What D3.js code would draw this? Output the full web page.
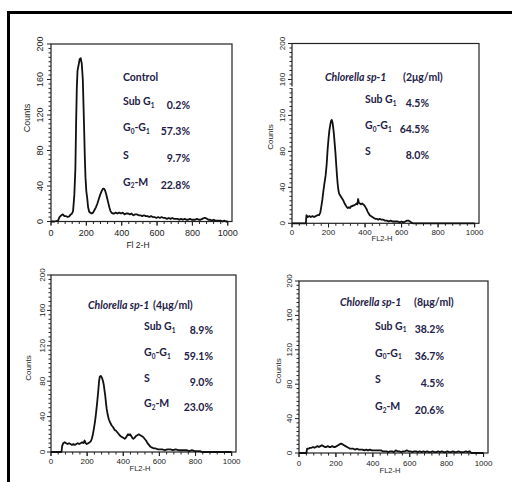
<!DOCTYPE html>
<html>
<head>
<meta charset="utf-8">
<script src="https://cdn.jsdelivr.net/npm/d3@7"></script>
<style>
  body { margin: 0; background: #fff; }
  .tick-label { font-family: "Liberation Sans", Arial, sans-serif; fill: #222; }
  .stat { font-family: Lato, "Open Sans", sans-serif; font-weight: bold; fill: #1e2147; }
</style>
</head>
<body>
<div id="chart"></div>
<script>
// histograms: [FL2-H channel, counts]
var controlHist = [[0,0],[20,0],[40,1],[48,5],[58,7],[67,8],[76,6],[86,6],[95,5],[104,6],[112,8],[119,9],[125,12],
  [132,30],[138,60],[142,110],[146,150],[150,170],[156,176],[162,183],[168,184],[174,178],[180,160],[184,130],
  [188,100],[191,75],[195,50],[200,34],[205,26],[210,16],[216,11],[222,10],[230,9],[238,10],[246,13],[254,16],
  [262,20],[270,25],[278,30],[286,34],[294,37],[300,37],[306,35],[312,31],[318,26],[324,21],[330,16],[336,12],
  [342,10],[350,9],[358,9],[366,10],[376,9],[386,10],[396,9],[406,10],[416,8],[426,9],[436,9],[446,8],[456,9],
  [466,7],[476,8],[486,8],[496,7],[506,7],[516,6],[526,7],[536,6],[546,6],[556,5],[566,6],[576,5],[586,5],[596,4],
  [606,5],[616,4],[626,5],[636,4],[646,4],[656,3],[666,4],[676,3],[686,4],[696,3],[706,3],[716,3],[726,2],[736,3],
  [746,2],[756,3],[766,2],[776,2],[786,3],[796,2],[806,2],[816,2],[826,3],[836,2],[846,2],[856,3],[866,4],[874,4],
  [882,3],[890,2],[900,2],[910,1],[920,2],[930,1],[940,1],[950,1],[960,1],[970,0],[980,1],[990,0],[1000,0]];

var chl2Hist = [[0,0],[30,0],[60,0],[76,0],[79,9],[86,7],[95,8],[103,7],[112,8],[121,7],[130,8],[139,9],[148,9],
  [155,12],[160,18],[166,26],[172,36],[178,45],[184,53],[190,66],[195,82],[200,94],[205,104],[210,110],[214,114],
  [218,115],[222,112],[226,106],[230,98],[234,88],[238,78],[242,66],[246,54],[250,44],[254,37],[258,33],[264,31],
  [270,29],[276,27],[282,25],[288,22],[294,20],[300,18],[306,17],[312,18],[318,17],[324,19],[330,19],[336,20],
  [342,20],[348,21],[354,22],[358,21],[362,27],[366,23],[372,22],[378,21],[384,22],[390,21],[396,20],[402,18],
  [408,16],[414,13],[420,11],[426,9],[432,8],[440,7],[448,6],[456,5],[464,5],[472,4],[480,5],[490,4],[500,4],
  [510,3],[520,3],[530,2],[540,3],[550,2],[560,2],[570,2],[580,2],[590,1],[600,2],[610,1],[620,2],[630,3],[638,3],
  [646,2],[654,1],[662,0],[720,0],[800,0],[900,0],[1000,0]];

var chl4Hist = [[0,0],[30,0],[58,0],[62,7],[68,10],[76,11],[84,10],[92,9],[100,10],[108,9],[116,8],[124,9],[132,8],
  [140,9],[148,10],[156,9],[164,10],[172,11],[180,10],[186,13],[192,10],[198,9],[206,10],[214,11],[220,12],
  [226,15],[232,20],[238,27],[244,35],[250,45],[256,57],[262,70],[266,80],[270,85],[276,86],[282,84],[288,80],
  [292,76],[296,70],[300,64],[304,56],[308,49],[314,42],[320,37],[328,33],[336,30],[344,28],[352,25],[360,24],
  [368,22],[376,20],[384,18],[392,17],[400,16],[408,15],[414,16],[420,18],[426,20],[432,19],[438,20],[444,18],
  [450,16],[456,15],[462,16],[470,18],[478,19],[486,20],[494,19],[502,18],[510,17],[518,15],[526,13],[534,10],
  [542,8],[550,6],[560,5],[570,4],[580,4],[592,3],[604,3],[616,3],[630,2],[645,3],[660,3],[675,2],[690,3],[705,2],
  [720,2],[735,2],[750,2],[765,1],[780,2],[795,1],[810,1],[825,1],[835,0],[900,0],[1000,0]];

var chl8Hist = [[0,0],[20,0],[40,0],[44,5],[52,5],[60,6],[68,6],[76,7],[84,6],[92,7],[100,8],[108,7],[116,8],[124,9],
  [132,8],[140,7],[148,7],[156,8],[164,7],[172,7],[180,8],[188,7],[196,7],[204,8],[212,9],[220,10],[228,11],
  [236,10],[244,9],[252,8],[260,7],[268,6],[276,5],[284,5],[294,5],[304,4],[314,5],[324,4],[334,4],[344,4],
  [354,3],[364,4],[374,3],[384,4],[394,3],[404,3],[414,3],[424,3],[434,3],[444,3],[454,2],[464,2],[474,2],[484,1],
  [494,2],[504,2],[514,1],[524,3],[534,2],[544,2],[554,1],[564,2],[574,2],[584,3],[594,2],[604,2],[614,1],[624,2],
  [634,2],[644,1],[654,2],[664,1],[674,2],[684,1],[694,2],[704,1],[714,1],[724,2],[734,1],[744,1],[754,2],[764,1],
  [774,2],[784,1],[794,1],[804,2],[814,1],[824,1],[834,2],[844,1],[854,1],[864,2],[874,1],[884,1],[894,1],[904,2],
  [914,1],[924,2],[934,0],[1000,0]];

var sampleNames = ["Control", "Chlorella sp-1", "Chlorella sp-1", "Chlorella sp-1"];
var doses = ["", "(2\u03bcg/ml)", "(4\u03bcg/ml)", "(8\u03bcg/ml)"];
var phaseLabels = ["Sub G_1", "G_0-G_1", "S", "G_2-M"];
var controlPct = ["0.2%", "57.3%", "9.7%", "22.8%"];
var chl2Pct = ["4.5%", "64.5%", "8.0%"];
var chl4Pct = ["8.9%", "59.1%", "9.0%", "23.0%"];
var chl8Pct = ["38.2%", "36.7%", "4.5%", "20.6%"];
var xTickValues = [0, 200, 400, 600, 800, 1000];
var yTickValues = [0, 40, 80, 120, 160, 200];
var xTitles = ["Fl 2-H", "FL2-H", "FL2-H", "FL2-H"];

var hists = [controlHist, chl2Hist, chl4Hist, chl8Hist];
var pcts = [controlPct, chl2Pct, chl4Pct, chl8Pct];

// panel placement (pixels)
var layout = [
  {l: 51, r: 232, t: 44, b: 221.5, nameX: 123, doseX: 0, labX: 123, valX: 190,
   rows: [77, 105, 131, 158.5, 185.5], yLabX: 40, countsX: 27, countsY: 118,
   xLabY: 232.5, xTitleX: 138, xTitleY: 245, tickFs: 9, titleFs: 8.5},
  {l: 292, r: 479, t: 43.5, b: 223.3, nameX: 325, doseX: 403, labX: 365, valX: 429,
   rows: [77, 103, 129, 155], yLabX: 282, countsX: 270, countsY: 137,
   xLabY: 232.5, xTitleX: 382, xTitleY: 238, tickFs: 8, titleFs: 7.5},
  {l: 51, r: 236, t: 275, b: 452, nameX: 88, doseX: 153, labX: 144, valX: 213,
   rows: [305, 330, 356, 382, 407], yLabX: 42, countsX: 28, countsY: 368,
   xLabY: 460.7, xTitleX: 140, xTitleY: 468.5, tickFs: 8, titleFs: 7.5},
  {l: 299, r: 488, t: 281, b: 453, nameX: 340, doseX: 414, labX: 375, valX: 444,
   rows: [302.5, 329.5, 356.5, 383.3, 410], yLabX: 289, countsX: 278, countsY: 371,
   xLabY: 463.3, xTitleX: 390, xTitleY: 470, tickFs: 8, titleFs: 7.5}
];

var svg = d3.select("#chart").append("svg")
    .attr("width", 512)
    .attr("height", 482);

// outer frame (top and left edges only are in view)
svg.append("rect").attr("x", 7).attr("y", 11).attr("width", 505).attr("height", 3).attr("fill", "#000");
svg.append("rect").attr("x", 7).attr("y", 11).attr("width", 3).attr("height", 471).attr("fill", "#000");

function addSubText(sel, str) {
    // "G_0-G_1" -> G with subscript 0, "-G", subscript 1
    var parts = str.split(/(_\d)/).filter(function(p) { return p !== ""; });
    var shifted = false;
    parts.forEach(function(p) {
        if (p[0] === "_") {
            sel.append("tspan").attr("font-size", 6.5).attr("dy", 2.5).text(p.slice(1));
            shifted = true;
        } else {
            sel.append("tspan").attr("dy", shifted ? -2.5 : 0).text(p);
            shifted = false;
        }
    });
}

layout.forEach(function(p, i) {
    var g = svg.append("g");

    var x = d3.scaleLinear().domain([0, 1024]).range([p.l, p.r]);
    var y = d3.scaleLinear().domain([0, 200]).range([p.b, p.t]);

    // minor/major ticks
    var yMinor = d3.range(0, 201, 5);
    g.selectAll(".ytk").data(yMinor).enter().append("line")
        .attr("x1", p.l)
        .attr("x2", function(d) { return p.l - (d % 40 === 0 ? 4 : 2.5); })
        .attr("y1", function(d) { return y(d); })
        .attr("y2", function(d) { return y(d); })
        .attr("stroke", "#222").attr("stroke-width", 1);

    var xMinor = d3.range(0, 1001, 40).concat(xTickValues);
    g.selectAll(".xtk").data(xMinor).enter().append("line")
        .attr("x1", function(d) { return x(d); })
        .attr("x2", function(d) { return x(d); })
        .attr("y1", p.b)
        .attr("y2", function(d) { return p.b + (d % 200 === 0 ? 4 : 2.5); })
        .attr("stroke", "#222").attr("stroke-width", 1);

    // plot box
    g.append("rect")
        .attr("x", p.l).attr("y", p.t)
        .attr("width", p.r - p.l).attr("height", p.b - p.t)
        .attr("fill", "none").attr("stroke", "#222").attr("stroke-width", 1.2);

    // tick labels
    g.selectAll(".xl").data(xTickValues).enter().append("text")
        .attr("class", "tick-label")
        .attr("x", function(d) { return x(d); })
        .attr("y", p.xLabY)
        .attr("dy", "0.35em")
        .attr("text-anchor", "middle")
        .attr("font-size", p.tickFs)
        .text(function(d) { return d; });

    g.selectAll(".yl").data(yTickValues).enter().append("text")
        .attr("class", "tick-label")
        .attr("transform", function(d) { return "translate(" + p.yLabX + "," + y(d) + ") rotate(-90)"; })
        .attr("dy", "0.35em")
        .attr("text-anchor", "middle")
        .attr("font-size", p.tickFs)
        .text(function(d) { return d; });

    g.append("text")
        .attr("class", "tick-label")
        .attr("transform", "translate(" + p.countsX + "," + p.countsY + ") rotate(-90)")
        .attr("dy", "0.35em")
        .attr("text-anchor", "middle")
        .attr("font-size", p.titleFs + 0.5)
        .text("Counts");

    g.append("text")
        .attr("class", "tick-label")
        .attr("x", p.xTitleX).attr("y", p.xTitleY)
        .attr("dy", "0.35em")
        .attr("text-anchor", "middle")
        .attr("font-size", p.titleFs)
        .text(xTitles[i]);

    // histogram trace
    var line = d3.line()
        .x(function(d) { return x(d[0]); })
        .y(function(d) { return y(d[1]); });

    g.append("path")
        .datum(hists[i])
        .attr("fill", "none")
        .attr("stroke", "#111")
        .attr("stroke-width", 1.8)
        .attr("stroke-linejoin", "round")
        .attr("d", line);

    // sample name and phase percentages
    g.append("text").attr("class", "stat")
        .attr("x", p.nameX).attr("y", p.rows[0]).attr("dy", "0.35em")
        .attr("font-size", 10.5)
        .attr("font-style", i === 0 ? "normal" : "italic")
        .text(sampleNames[i]);
    if (doses[i]) {
        g.append("text").attr("class", "stat")
            .attr("x", p.doseX).attr("y", p.rows[0]).attr("dy", "0.35em")
            .attr("font-size", 10.5)
            .text(doses[i]);
    }

    pcts[i].forEach(function(v, k) {
        var lab = g.append("text").attr("class", "stat")
            .attr("x", p.labX).attr("y", p.rows[k + 1]).attr("dy", "0.35em")
            .attr("font-size", 10.5);
        addSubText(lab, phaseLabels[k]);
        g.append("text").attr("class", "stat")
            .attr("x", p.valX).attr("y", p.rows[k + 1]).attr("dy", "0.35em")
            .attr("text-anchor", "end")
            .attr("font-size", 10.5)
            .text(v);
    });
});

// small break in the second panel's left axis, as in the scan
svg.append("rect").attr("x", 282).attr("y", 86.5).attr("width", 13).attr("height", 1.6).attr("fill", "#fff");
</script>
</body>
</html>
